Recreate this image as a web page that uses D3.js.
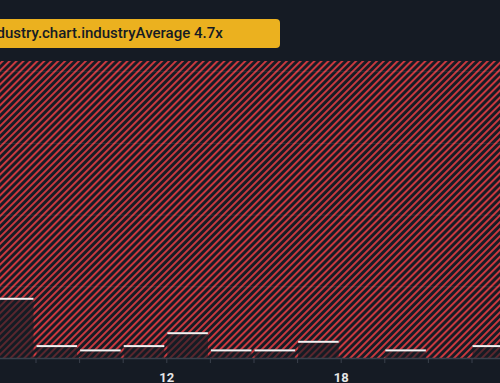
<!DOCTYPE html>
<html>
<head>
<meta charset="utf-8">
<script src="https://cdn.jsdelivr.net/npm/d3@7"></script>
<style>
html,body{margin:0;padding:0;background:#151b24;overflow:hidden;}
svg{display:block;}
</style>
</head>
<body>
<svg id="chart" width="500" height="383"></svg>
<script>
// ---- data ----
const binEdges = [6, 7.5, 9, 10.5, 12, 13.5, 15, 16.5, 18, 19.5, 21, 22.5, 24];
const binValues = [0.84, 0.18, 0.12, 0.18, 0.36, 0.12, 0.12, 0.24, 0, 0.12, 0, 0.18];
const tickLabels = [12, 18];
const gridValues = [1, 2, 3, 4];
const industryAverage = 4.7;
const labelText = "industry.chart.industryAverage " + industryAverage + "x";

// ---- layout ----
const W = 500, H = 383;
const baseline = 358, hatchTop = 61;
const svg = d3.select("#chart");

const x = d3.scaleLinear().domain([6, 24]).range([-8.1, 515.1]);
const y = d3.scaleLinear().domain([0, 4]).range([baseline, 71.2]);

// pattern
const defs = svg.append("defs");
const pat = defs.append("pattern")
  .attr("id", "hatch")
  .attr("patternUnits", "userSpaceOnUse")
  .attr("width", 4.9).attr("height", 4.9)
  .attr("patternTransform", "rotate(45)");
pat.append("rect").attr("x", 0).attr("y", 0).attr("width", 2).attr("height", 4.9)
  .attr("fill", "#c9393f");

svg.append("rect").attr("width", W).attr("height", H).attr("fill", "#151b24");

// hatched region from industry average to the right
svg.append("rect")
  .attr("x", x(industryAverage))
  .attr("y", hatchTop)
  .attr("width", W - x(industryAverage) + 20)
  .attr("height", baseline - hatchTop)
  .attr("fill", "url(#hatch)");

// gridlines
svg.append("g").selectAll("line").data(gridValues).join("line")
  .attr("x1", 0).attr("x2", W)
  .attr("y1", d => y(d) + 0.5).attr("y2", d => y(d) + 0.5)
  .attr("stroke", "rgba(255,255,255,0.08)").attr("stroke-width", 1);

// bars
const bins = binValues.map((v, i) => ({x0: binEdges[i], x1: binEdges[i + 1], v}));
const bars = svg.append("g");
bars.selectAll("rect.fill").data(bins.filter(d => d.v > 0)).join("rect")
  .attr("class", "fill")
  .attr("x", d => x(d.x0) + 1)
  .attr("width", d => x(d.x1) - x(d.x0) - 3)
  .attr("y", d => y(d.v))
  .attr("height", d => baseline - y(d.v))
  .attr("fill", "rgba(21,27,36,0.62)");
bars.selectAll("rect.top").data(bins.filter(d => d.v > 0)).join("rect")
  .attr("class", "top")
  .attr("x", d => x(d.x0) + 1)
  .attr("width", d => x(d.x1) - x(d.x0) - 3)
  .attr("y", d => y(d.v))
  .attr("height", 2)
  .attr("fill", "#f2f2f2");

// x axis
const axis = d3.axisBottom(x)
  .tickValues(binEdges)
  .tickSize(5)
  .tickFormat(d => tickLabels.includes(d) ? d : "");
const ax = svg.append("g").attr("transform", `translate(0,${baseline})`).call(axis);
ax.select(".domain").attr("stroke", "#3a414c").attr("stroke-width", 1.5);
ax.selectAll(".tick line").attr("stroke", "#3a414c");
ax.selectAll(".tick text")
  .attr("fill", "#e6e6e6")
  .attr("font-family", "Roboto, sans-serif")
  .attr("font-weight", 700)
  .attr("font-size", 13)
  .attr("dy", "0")
  .attr("y", 23.5);

// industry average label
svg.append("rect")
  .attr("x", -80).attr("y", 19)
  .attr("width", 360).attr("height", 29)
  .attr("rx", 4)
  .attr("fill", "#ebb11f");
svg.append("text")
  .attr("x", 222.7).attr("y", 37.5)
  .attr("text-anchor", "end")
  .attr("font-family", "Roboto, sans-serif")
  .attr("font-weight", 500)
  .attr("font-size", 15)
  .attr("fill", "#151b24")
  .text(labelText);
</script>
</body>
</html>
